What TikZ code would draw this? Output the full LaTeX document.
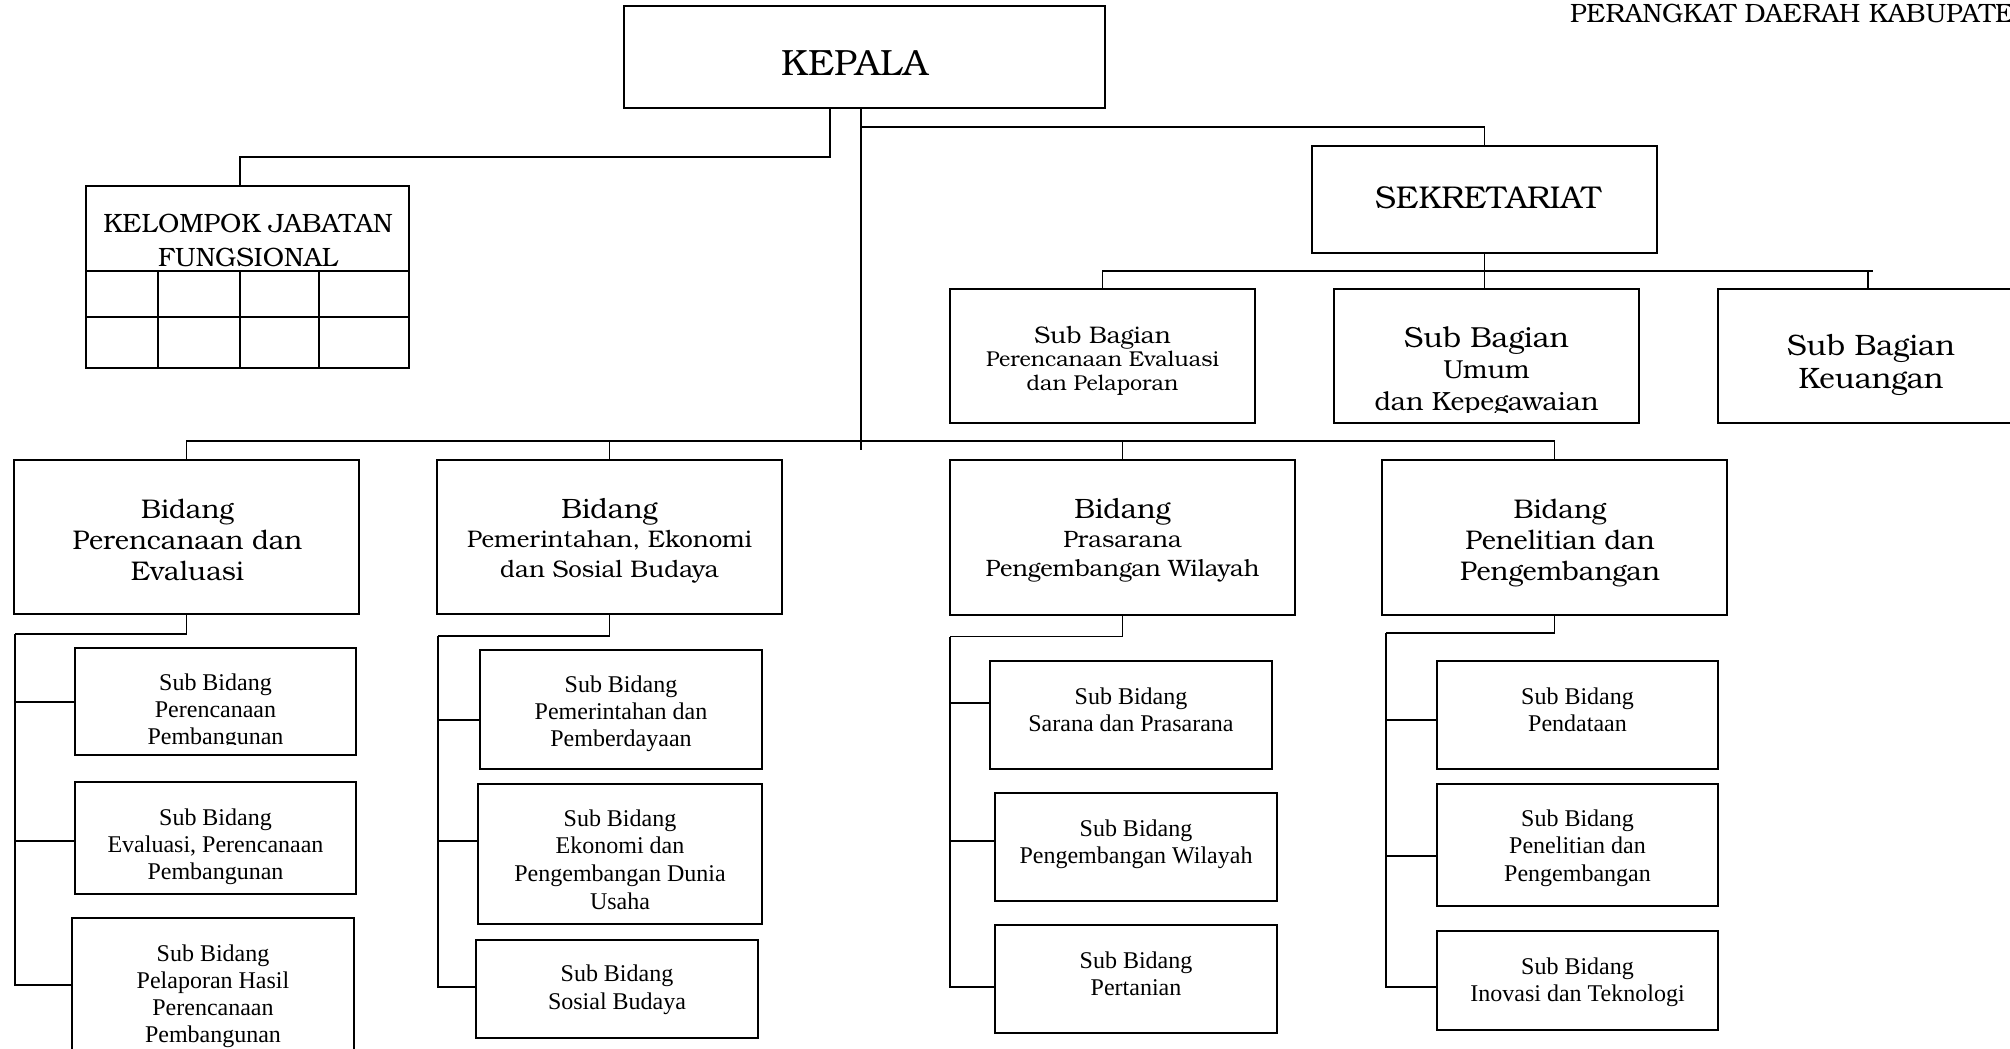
\documentclass[tikz,border=0pt]{standalone}
\usepackage{fontspec}
\setmainfont{Liberation Serif}
\newfontfamily\bk{TeX Gyre Bonum}
\usetikzlibrary{calc}

% rows of centred text; the node's base is the first row's baseline
\newcommand\rows[3]{{\fontsize{#1}{#2}\selectfont\begin{tabular}[t]{@{}c@{}}#3\end{tabular}}}
\newcommand\fs[1]{\fontsize{#1}{#1}\selectfont}
% a box given by its corners (x1,y1,x2,y2), y growing downwards
\newcommand\orgbox[5]{\node[box, minimum width={(#4)-(#2)}, minimum height={(#5)-(#3)}] (#1) at ({((#2)+(#4))/2},{((#3)+(#5))/2}) {};}

\tikzset{
  box/.style={draw, line width=2pt, inner sep=0pt, outer sep=0pt},
  wire/.style={line width=1.6pt},
  lbl/.style={anchor=base, inner sep=0pt, outer sep=0pt},
}

\begin{document}
\begin{tikzpicture}[x=1pt, y=-1pt]
\useasboundingbox (0,0) rectangle (2010,1049);

% ---- boxes ----
\orgbox{kep}{624}{6}{1105}{108}
\orgbox{kjf}{86}{186}{409}{368}
\orgbox{sek}{1312}{146}{1657}{253}
\orgbox{sbg1}{950}{289}{1255}{423}
\orgbox{sbg2}{1334}{289}{1639}{423}
\orgbox{sbg3}{1718}{289}{2018}{423}
\orgbox{b1}{14}{460}{359}{614}
\orgbox{b2}{437}{460}{782}{614}
\orgbox{b3}{950}{460}{1295}{615}
\orgbox{b4}{1382}{460}{1727}{615}
\orgbox{s11}{75}{648}{356}{755}
\orgbox{s12}{75}{782}{356}{894}
\orgbox{s13}{72}{918}{354}{1056}
\orgbox{s21}{480}{650}{762}{769}
\orgbox{s22}{478}{784}{762}{924}
\orgbox{s23}{476}{940}{758}{1038}
\orgbox{s31}{990}{661}{1272}{769}
\orgbox{s32}{995}{793}{1277}{901}
\orgbox{s33}{995}{925}{1277}{1033}
\orgbox{s41}{1437}{661}{1718}{769}
\orgbox{s42}{1437}{784}{1718}{906}
\orgbox{s43}{1437}{931}{1718}{1030}

% grid inside the functional group box
\draw[wire] (86,271) -- (409,271);
\draw[wire] (86,317) -- (409,317);
\foreach \gx in {158,240,319} \draw[wire] (\gx,271) -- (\gx,368);

% ---- connectors ----
\coordinate (bus) at (0,441);
\coordinate (sbus) at (0,271);
\coordinate (t1) at (15,634);
\coordinate (t2) at (438,636);
\coordinate (t3) at (950,636.5);
\coordinate (t4) at (1386,633);

% head to functional group
\draw[wire] ([xshift=-34.5]kep.south) |- ++(0,49) -| ([xshift=-7.5]kjf.north);
% head down to the bidang bus
\draw[wire] ([xshift=-3.5]kep.south) -- ++(0,342);
% head to secretariat
\draw[wire] ([xshift=-3.5,yshift=-19]kep.south) -| (sek.north);
% secretariat bus
\draw[wire] (sek.south) -- (sek.south |- sbg2.north);
\draw[wire] (sbg1.north) |- ([xshift=5]sbg3.north |- sbus);
\draw[wire] (sbg3.north) -- (sbg3.north |- sbus);
% bidang bus
\draw[wire] (b1.north) |- (b4.north |- bus) -- (b4.north);
\draw[wire] (b2.north) -- (b2.north |- bus);
\draw[wire] (b3.north) -- (b3.north |- bus);

% bidang to sub bidang
\draw[wire] (b1.south) |- (t1);
\draw[wire] (t1) |- ([yshift=-0.5]s11.west);
\draw[wire] (t1) |- ([yshift=-3]s12.west);
\draw[wire] (t1) |- ([yshift=2]s13.west);

\draw[wire] (b2.south) |- (t2);
\draw[wire] (t2) |- ([yshift=-10.5]s21.west);
\draw[wire] (t2) |- ([yshift=13]s22.west);
\draw[wire] (t2) |- ([yshift=2]s23.west);

\draw[wire] (b3.south) |- (t3);
\draw[wire] (t3) |- ([yshift=12]s31.west);
\draw[wire] (t3) |- ([yshift=6]s32.west);
\draw[wire] (t3) |- ([yshift=-8]s33.west);

\draw[wire] (b4.south) |- (t4);
\draw[wire] (t4) |- ([yshift=-5]s41.west);
\draw[wire] (t4) |- ([yshift=-11]s42.west);
\draw[wire] (t4) |- ([yshift=-6.5]s43.west);

% ---- texts ----
\node[lbl, anchor=base west, font=\bk] (hdr) at (1570,23) {\fs{26.5}PERANGKAT DAERAH KABUPATE};
\node[lbl, font=\bk] (kepT) at (855,75) {\rows{36.5}{36}{KEPALA}};
\node[lbl, font=\bk] (kjfT) at (248,232) {\rows{26.5}{34}{KELOMPOK JABATAN\\FUNGSIONAL}};
\node[lbl, font=\bk] (sekT) at (1488,208) {\rows{31.5}{31}{SEKRETARIAT}};

\node[lbl, font=\bk] (sbg1T) at (1102.5,343) {\rows{24}{23.5}{Sub Bagian\\\fs{21.5}Perencanaan Evaluasi\\\fs{21.5}dan Pelaporan}};
\begin{scope}
  \clip (1334,289) rectangle (1639,412);
  \node[lbl, font=\bk] (sbg2T) at (1486.5,347) {\rows{29}{31}{Sub Bagian\\\fs{26}Umum\\[1.5pt]\fs{26.3}dan Kepegawaian}};
\end{scope}
\node[lbl, font=\bk] (sbg3T) at (1871,355) {\rows{29.5}{33}{Sub Bagian\\Keuangan}};

\node[lbl, font=\bk] (b1T) at (187.5,518) {\rows{27}{31}{Bidang\\Perencanaan dan\\Evaluasi}};
\node[lbl, font=\bk] (b2T) at (609.5,518) {\rows{28}{29.5}{Bidang\\\fs{24}Pemerintahan, Ekonomi\\\fs{24}dan Sosial Budaya}};
\node[lbl, font=\bk] (b3T) at (1122.5,518) {\rows{28}{29}{Bidang\\\fs{23.7}Prasarana\\\fs{23.7}Pengembangan Wilayah}};
\node[lbl, font=\bk] (b4T) at (1560,518) {\rows{27}{31}{Bidang\\Penelitian dan\\Pengembangan}};

\begin{scope}
  \clip (75,648) rectangle (356,744);
  \node[lbl] (s11T) at (215.5,690.5) {\rows{24}{27.2}{Sub Bidang\\Perencanaan\\Pembangunan}};
\end{scope}
\node[lbl] (s12T) at (215.5,825) {\rows{24}{27}{Sub Bidang\\Evaluasi, Perencanaan\\Pembangunan}};
\node[lbl] (s13T) at (213,961) {\rows{24}{27}{Sub Bidang\\Pelaporan Hasil\\Perencanaan\\Pembangunan}};

\node[lbl] (s21T) at (621,692.4) {\rows{24}{27.2}{Sub Bidang\\Pemerintahan dan\\Pemberdayaan}};
\node[lbl] (s22T) at (620,826) {\rows{24}{27.7}{Sub Bidang\\Ekonomi dan\\Pengembangan Dunia\\Usaha}};
\node[lbl] (s23T) at (617,981.7) {\rows{24}{27.3}{Sub Bidang\\Sosial Budaya}};

\node[lbl] (s31T) at (1131,704) {\rows{24}{27}{Sub Bidang\\Sarana dan Prasarana}};
\node[lbl] (s32T) at (1136,836) {\rows{24}{27}{Sub Bidang\\Pengembangan Wilayah}};
\node[lbl] (s33T) at (1136,968) {\rows{24}{27}{Sub Bidang\\Pertanian}};

\node[lbl] (s41T) at (1577.5,704) {\rows{24}{27}{Sub Bidang\\Pendataan}};
\node[lbl] (s42T) at (1577.5,826) {\rows{24}{27.5}{Sub Bidang\\Penelitian dan\\Pengembangan}};
\node[lbl] (s43T) at (1577.5,974) {\rows{24}{27}{Sub Bidang\\Inovasi dan Teknologi}};
\end{tikzpicture}
\end{document}
